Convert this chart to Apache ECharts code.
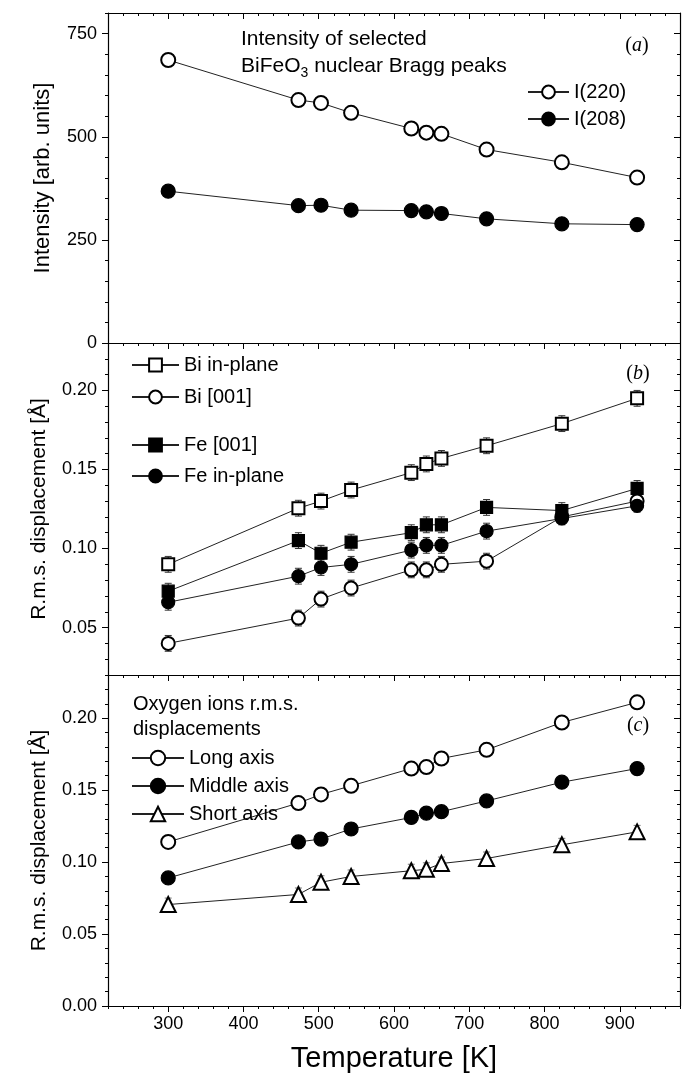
<!DOCTYPE html>
<html><head><meta charset="utf-8">
<script src="https://cdn.jsdelivr.net/npm/echarts@6/dist/echarts.min.js"></script>
<style>html,body{margin:0;padding:0;background:#fff}#c{width:682px;height:1074px}</style>
</head><body><div id="c"></div>
<script>
// ---- data ----
const temps = [300, 473, 503, 543, 623, 643, 663, 723, 823, 923];
// panel (a)
const i220 = [686, 589, 582, 558, 520, 510, 507, 469, 438, 401];
const i208 = [368, 333, 334, 322, 321, 318, 314, 301, 289, 287];
// panel (b)
const biInPlane = [0.090, 0.1255, 0.130, 0.137, 0.148, 0.1535, 0.157, 0.165, 0.179, 0.195];
const bi001     = [0.040, 0.056, 0.068, 0.075, 0.0865, 0.0865, 0.090, 0.092, 0.120, 0.130];
const fe001     = [0.073, 0.105, 0.097, 0.104, 0.110, 0.115, 0.115, 0.126, 0.124, 0.138];
const feInPlane = [0.066, 0.0825, 0.088, 0.090, 0.099, 0.102, 0.102, 0.111, 0.119, 0.127];
const biInPlaneErr = [0.005, 0.005, 0.005, 0.005, 0.005, 0.005, 0.005, 0.005, 0.005, 0.005];
const bi001Err     = [0.005, 0.005, 0.005, 0.005, 0.005, 0.005, 0.005, 0.005, 0.004, 0.004];
const fe001Err     = [0.005, 0.005, 0.005, 0.005, 0.005, 0.005, 0.005, 0.005, 0.005, 0.005];
const feInPlaneErr = [0.005, 0.005, 0.005, 0.005, 0.005, 0.005, 0.005, 0.005, 0.004, 0.004];
// panel (c)
const longAxis   = [0.114, 0.141, 0.147, 0.153, 0.165, 0.166, 0.172, 0.178, 0.197, 0.211];
const middleAxis = [0.089, 0.114, 0.116, 0.123, 0.131, 0.134, 0.135, 0.1425, 0.1555, 0.165];
const shortAxis  = [0.0705, 0.0775, 0.086, 0.090, 0.094, 0.095, 0.099, 0.1025, 0.112, 0.121];
const longErr   = [0.004, 0.004, 0.004, 0.004, 0.004, 0.004, 0.004, 0.004, 0.004, 0.004];
const middleErr = [0.004, 0.004, 0.004, 0.004, 0.004, 0.004, 0.004, 0.004, 0.004, 0.004];
const shortErr  = [0.0045, 0.0045, 0.0045, 0.0045, 0.0045, 0.0045, 0.0045, 0.0045, 0.0045, 0.0045];
// ticks
const xMajor = [300, 400, 500, 600, 700, 800, 900];
const xMinor = [220, 240, 260, 280, 300, 320, 340, 360, 380, 400, 420, 440, 460, 480, 500, 520, 540, 560, 580, 600, 620, 640, 660, 680, 700, 720, 740, 760, 780, 800, 820, 840, 860, 880, 900, 920, 940, 960, 980];
const aMajor = [0, 250, 500, 750];
const aMinor = [0, 50, 100, 150, 200, 250, 300, 350, 400, 450, 500, 550, 600, 650, 700, 750, 800];
const bMajor = [0.05, 0.10, 0.15, 0.20];
const bMinor = [0.02, 0.03, 0.04, 0.05, 0.06, 0.07, 0.08, 0.09, 0.10, 0.11, 0.12, 0.13, 0.14, 0.15, 0.16, 0.17, 0.18, 0.19, 0.20, 0.21, 0.22, 0.23];
const cMajor = [0.00, 0.05, 0.10, 0.15, 0.20];
const cMinor = [0.00, 0.01, 0.02, 0.03, 0.04, 0.05, 0.06, 0.07, 0.08, 0.09, 0.10, 0.11, 0.12, 0.13, 0.14, 0.15, 0.16, 0.17, 0.18, 0.19, 0.20, 0.21, 0.22, 0.23];

const FONT = 'Liberation Sans';
const chart = echarts.init(document.getElementById('c'), null, {renderer: 'canvas'});

const grids = [
  {left: 108, right: 2, top: 13, height: 330},
  {left: 108, right: 2, top: 343, height: 332},
  {left: 108, right: 2, top: 675, height: 332}
];
const xAxes = [], yAxes = [];
const lineSt = {color: '#000', width: 1.2};
function addAxes(gi, yMin, yMax, yMajor, yMinor, fmt, yName, nameGap, nameSize, showX) {
  const baseX = {gridIndex: gi, type: 'value', min: 220, max: 980, splitLine: {show: false}};
  xAxes.push(Object.assign({}, baseX, {
    position: 'bottom',
    axisLine: {show: true, onZero: false, lineStyle: lineSt},
    axisTick: {show: true, inside: false, length: 6, customValues: xMajor, lineStyle: {color: '#000', width: 1}},
    axisLabel: {show: showX, customValues: xMajor, margin: 9, color: '#000', fontSize: 18, fontFamily: FONT},
    name: showX ? 'Temperature [K]' : '', nameLocation: 'middle', nameGap: 38,
    nameTextStyle: {color: '#000', fontSize: 29, fontFamily: FONT}
  }));
  xAxes.push(Object.assign({}, baseX, {
    position: 'bottom', axisLine: {show: false, onZero: false},
    axisTick: {show: true, inside: false, length: 3, customValues: xMinor, lineStyle: {color: '#000', width: 1}},
    axisLabel: {show: false}
  }));
  xAxes.push(Object.assign({}, baseX, {
    position: 'top', axisLine: {show: true, onZero: false, lineStyle: lineSt},
    axisTick: {show: true, inside: true, length: 6, customValues: xMajor, lineStyle: {color: '#000', width: 1}},
    axisLabel: {show: false}
  }));
  xAxes.push(Object.assign({}, baseX, {
    position: 'top', axisLine: {show: false, onZero: false},
    axisTick: {show: true, inside: true, length: 3, customValues: xMinor, lineStyle: {color: '#000', width: 1}},
    axisLabel: {show: false}
  }));
  const baseY = {gridIndex: gi, type: 'value', min: yMin, max: yMax, splitLine: {show: false}};
  yAxes.push(Object.assign({}, baseY, {
    position: 'left', axisLine: {show: true, onZero: false, lineStyle: lineSt},
    axisTick: {show: true, inside: false, length: 6, customValues: yMajor, lineStyle: {color: '#000', width: 1}},
    axisLabel: {show: true, customValues: yMajor, margin: 11, color: '#000', fontSize: 18, fontFamily: FONT, formatter: fmt},
    name: yName, nameLocation: 'middle', nameRotate: 90, nameGap: nameGap,
    nameTextStyle: {color: '#000', fontSize: nameSize, fontFamily: FONT}
  }));
  yAxes.push(Object.assign({}, baseY, {
    position: 'left', axisLine: {show: false, onZero: false},
    axisTick: {show: true, inside: false, length: 3, customValues: yMinor, lineStyle: {color: '#000', width: 1}},
    axisLabel: {show: false}
  }));
  yAxes.push(Object.assign({}, baseY, {
    position: 'right', axisLine: {show: true, onZero: false, lineStyle: lineSt},
    axisTick: {show: true, inside: true, length: 6, customValues: yMajor, lineStyle: {color: '#000', width: 1}},
    axisLabel: {show: false}
  }));
  yAxes.push(Object.assign({}, baseY, {
    position: 'right', axisLine: {show: false, onZero: false},
    axisTick: {show: true, inside: true, length: 3, customValues: yMinor, lineStyle: {color: '#000', width: 1}},
    axisLabel: {show: false}
  }));
}
addAxes(0, 0, 800, aMajor, aMinor, v => String(Math.round(v)), 'Intensity [arb. units]', 54, 22, false);
addAxes(1, 0.02, 0.23, bMajor, bMinor, v => v.toFixed(2), 'R.m.s. displacement [Å]', 58, 21, false);
addAxes(2, 0, 0.23, cMajor, cMinor, v => v.toFixed(2), 'R.m.s. displacement [Å]', 58, 21, true);

function lineSeries(name, gi, vals, symbol, size) {
  return {
    name: name, type: 'line', xAxisIndex: gi * 4, yAxisIndex: gi * 4,
    data: temps.map((t, i) => [t, vals[i]]),
    symbol: symbol, symbolSize: size, showAllSymbol: true,
    lineStyle: {color: '#222', width: 1},
    itemStyle: {color: '#000', borderColor: '#000', borderWidth: 1.2},
    z: 3, silent: true
  };
}
function errSeries(gi, vals, errs, color) {
  return {
    type: 'custom', xAxisIndex: gi * 4, yAxisIndex: gi * 4, z: 1, silent: true,
    encode: {x: 0, y: 1},
    data: temps.map((t, i) => [t, vals[i], errs[i]]),
    renderItem: function (params, api) {
      const x = api.value(0), y = api.value(1), e = api.value(2);
      const a = api.coord([x, y + e]), b = api.coord([x, y - e]);
      const w = 3.5, st = {stroke: color, lineWidth: 1};
      return {type: 'group', children: [
        {type: 'line', shape: {x1: a[0], y1: a[1], x2: b[0], y2: b[1]}, style: st},
        {type: 'line', shape: {x1: a[0] - w, y1: a[1], x2: a[0] + w, y2: a[1]}, style: st},
        {type: 'line', shape: {x1: b[0] - w, y1: b[1], x2: b[0] + w, y2: b[1]}, style: st}
      ]};
    }
  };
}

const series = [
  lineSeries('I(220)', 0, i220, 'emptyCircle', 14),
  lineSeries('I(208)', 0, i208, 'circle', 14),
  errSeries(1, biInPlane, biInPlaneErr, '#333'),
  errSeries(1, bi001, bi001Err, '#333'),
  errSeries(1, fe001, fe001Err, '#333'),
  errSeries(1, feInPlane, feInPlaneErr, '#333'),
  lineSeries('Bi in-plane', 1, biInPlane, 'emptyRect', 12),
  lineSeries('Bi [001]', 1, bi001, 'emptyCircle', 13),
  lineSeries('Fe [001]', 1, fe001, 'rect', 12),
  lineSeries('Fe in-plane', 1, feInPlane, 'circle', 13),
  errSeries(2, longAxis, longErr, '#777'),
  errSeries(2, middleAxis, middleErr, '#777'),
  errSeries(2, shortAxis, shortErr, '#777'),
  lineSeries('Long axis', 2, longAxis, 'emptyCircle', 14),
  lineSeries('Middle axis', 2, middleAxis, 'circle', 14),
  lineSeries('Short axis', 2, shortAxis, 'emptyTriangle', 15)
];

function legend(names, left, top, iw, ih, gap) {
  return {
    data: names, left: left, top: top, orient: 'vertical', itemWidth: iw, itemHeight: ih, itemGap: gap,
    padding: 0, selectedMode: false,
    textStyle: {color: '#000', fontSize: 20, fontFamily: FONT, lineHeight: ih}
  };
}

const labelRich = {
  p: {fontFamily: 'Liberation Serif', fontSize: 20, color: '#000'},
  i: {fontFamily: 'Liberation Serif', fontSize: 20, fontStyle: 'italic', color: '#000'}
};
function panelLabel(letter, x, y) {
  return {type: 'text', x: x, y: y, silent: true,
    style: {text: '{p|(}{i|' + letter + '}{p|)}', rich: labelRich, align: 'center', verticalAlign: 'middle'}};
}

chart.setOption({
  animation: false,
  backgroundColor: '#fff',
  grid: grids,
  xAxis: xAxes,
  yAxis: yAxes,
  legend: [
    legend(['I(220)', 'I(208)'], 527, 82, 41, 16, 7),
    legend(['Bi in-plane', 'Bi [001]'], 131, 355, 47, 16, 12),
    legend(['Fe [001]', 'Fe in-plane'], 131, 435, 47, 16, 11),
    legend(['Long axis', 'Middle axis', 'Short axis'], 131, 748, 52, 18, 8)
  ],
  graphic: [
    {type: 'text', x: 241, y: 26, silent: true, style: {
      text: '{n|Intensity of selected}\n{n|BiFeO}{s|3}{n| nuclear Bragg peaks}',
      rich: {
        n: {fontFamily: FONT, fontSize: 21, color: '#000', lineHeight: 27, verticalAlign: 'middle'},
        s: {fontFamily: FONT, fontSize: 14, color: '#000', lineHeight: 14, verticalAlign: 'bottom'}
      }
    }},
    {type: 'text', x: 133, y: 692, silent: true, style: {
      text: 'Oxygen ions r.m.s.\ndisplacements', fontFamily: FONT, fontSize: 20, fill: '#000', lineHeight: 25
    }},
    panelLabel('a', 637, 46),
    panelLabel('b', 638, 374),
    panelLabel('c', 638, 726)
  ],
  series: series
});
</script></body></html>
